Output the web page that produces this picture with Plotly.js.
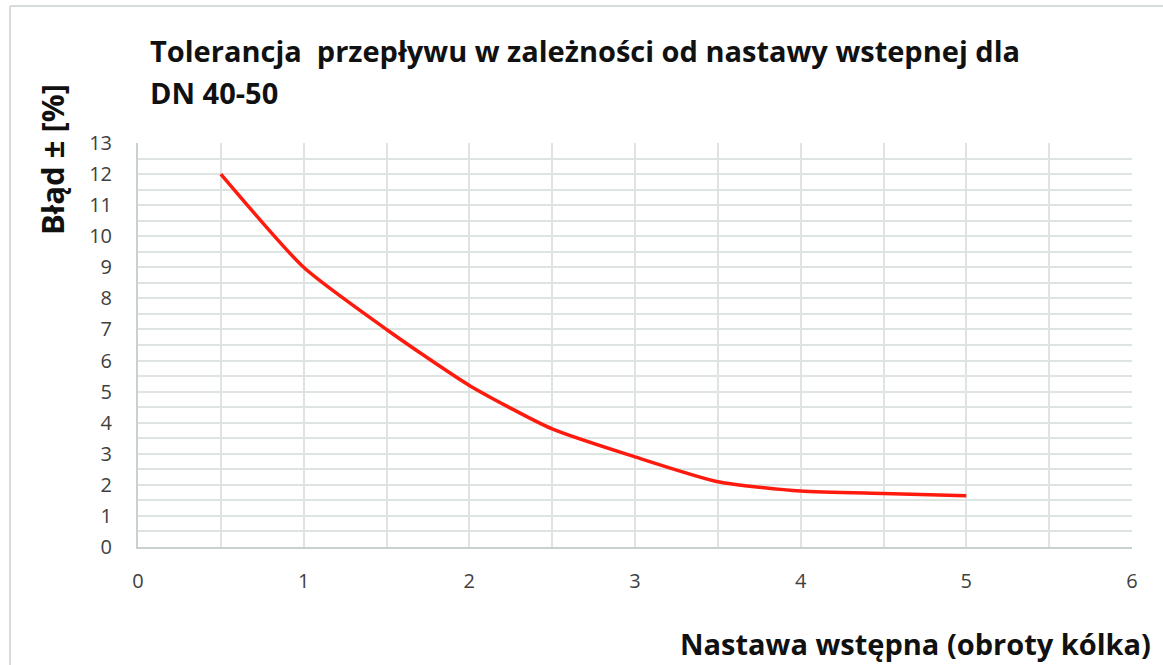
<!DOCTYPE html>
<html>
<head>
<meta charset="utf-8">
<script src="https://cdn.plot.ly/plotly-3.0.1.min.js"></script>
<style>html,body{margin:0;padding:0;background:#fff;}#chart{width:1163px;height:665px;}</style>
</head>
<body>
<div id="chart"></div>
<script>
const nastawa = [0.5, 1, 1.5, 2, 2.5, 3, 3.5, 4, 4.5, 5];
const blad = [12, 9, 7, 5.2, 3.8, 2.9, 2.1, 1.8, 1.72, 1.65];
const xTicks = [0, 1, 2, 3, 4, 5, 6];
const yTicks = [0,1,2,3,4,5,6,7,8,9,10,11,12,13];
const titleLines = ["Tolerancja  przepływu w zależności od nastawy wstepnej dla", "DN 40-50"];
const yTitle = "Błąd ± [%]";
const xTitle = "Nastawa wstępna (obroty kólka)";

const gridCol = "#dde4e1";
const axisCol = "#c9d1cd";
const tickFont = {family: "Open Sans, sans-serif", size: 20, color: "#404040"};
const boldFont = {family: "Open Sans, sans-serif", size: 29, color: "#111", weight: "bold"};

const L = 138, R = 31, T = 143, B = 118, W = 1163, H = 665;
const pw = W - L - R, ph = H - T - B;
const px = v => (v - L) / pw;
const py = v => (H - B - v) / ph;

const trace = {
  x: nastawa, y: blad, type: "scatter", mode: "lines",
  line: {color: "#ff1a0e", width: 3.5, shape: "spline", smoothing: 0.6},
  hoverinfo: "x+y"
};

const layout = {
  width: W, height: H,
  margin: {l: L, r: R, t: T, b: B},
  paper_bgcolor: "#fff", plot_bgcolor: "#fff",
  showlegend: false,
  xaxis: {
    range: [0, 6], tickvals: xTicks, ticktext: xTicks.map(String),
    showgrid: true, gridcolor: gridCol, gridwidth: 1.5,
    minor: {dtick: 0.5, showgrid: true, gridcolor: gridCol, gridwidth: 1.5},
    showline: true, linecolor: axisCol, linewidth: 2,
    zeroline: false, ticks: "", ticklabelstandoff: 15,
    tickfont: tickFont, fixedrange: true
  },
  yaxis: {
    range: [0, 13], tickvals: yTicks, ticktext: yTicks.map(String),
    showgrid: true, gridcolor: gridCol, gridwidth: 1.5,
    minor: {dtick: 0.5, showgrid: true, gridcolor: gridCol, gridwidth: 1.5},
    showline: true, linecolor: axisCol, linewidth: 2,
    zeroline: false, ticks: "", ticklabelstandoff: 20,
    tickfont: tickFont, fixedrange: true
  },
  annotations: [
    {text: titleLines[0], xref: "paper", yref: "paper", x: px(148), y: py(50),
     xanchor: "left", yanchor: "middle", showarrow: false, font: boldFont},
    {text: titleLines[1], xref: "paper", yref: "paper", x: px(148), y: py(93),
     xanchor: "left", yanchor: "middle", showarrow: false, font: boldFont},
    {text: yTitle, xref: "paper", yref: "paper", x: px(52), y: py(160),
     xanchor: "center", yanchor: "middle", textangle: -90, showarrow: false,
     font: Object.assign({}, boldFont, {size: 31})},
    {text: xTitle, xref: "paper", yref: "paper", x: px(1153), y: py(643),
     xanchor: "right", yanchor: "middle", showarrow: false, font: boldFont}
  ],
  shapes: [
    {type: "line", xref: "paper", yref: "paper", x0: px(10), x1: px(1170), y0: py(6), y1: py(6),
     line: {color: "#d6ddd9", width: 2}},
    {type: "line", xref: "paper", yref: "paper", x0: px(10), x1: px(10), y0: py(6), y1: py(680),
     line: {color: "#d6ddd9", width: 2}}
  ]
};

Plotly.newPlot("chart", [trace], layout, {displayModeBar: false});
</script>
</body>
</html>
